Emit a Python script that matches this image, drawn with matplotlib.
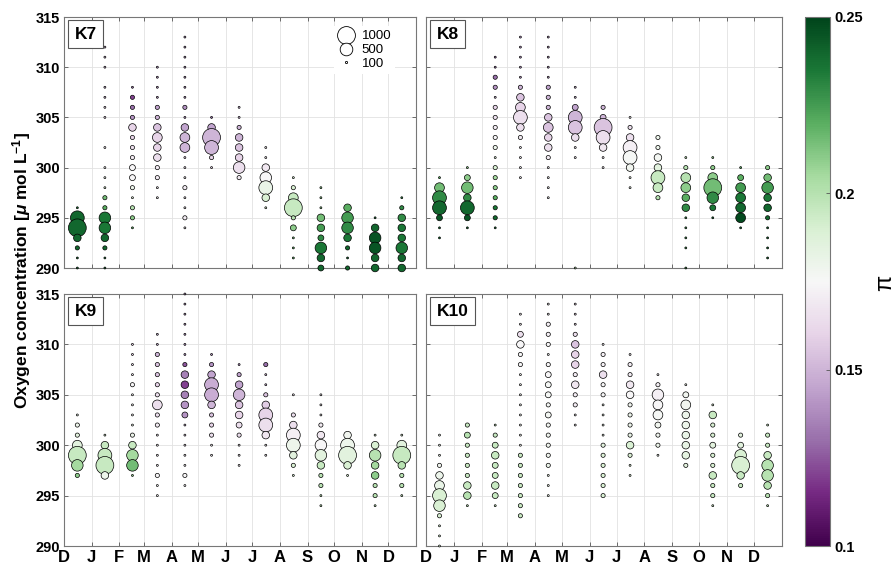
import matplotlib
matplotlib.use('Agg')
import matplotlib.pyplot as plt
import numpy as np
from matplotlib.colors import Normalize
from matplotlib.lines import Line2D

plt.rcParams['font.family'] = ['Liberation Sans', 'DejaVu Sans']
plt.rcParams['mathtext.fontset'] = 'custom'
plt.rcParams['mathtext.rm'] = 'Liberation Sans:bold'
plt.rcParams['mathtext.it'] = 'Liberation Sans:italic:bold'
plt.rcParams['mathtext.bf'] = 'Liberation Sans:bold'

# ---------------- data ----------------
month_labels = ['D', 'J', 'F', 'M', 'A', 'M', 'J', 'J', 'A', 'S', 'O', 'N', 'D']
month_days = [31, 31, 28, 31, 30, 31, 30, 31, 31, 30, 31, 30, 31]
panel_names = ['K7', 'K8', 'K9', 'K10']
legend_counts = [1000, 500, 100]
y_ticks = [290, 295, 300, 305, 310, 315]
cbar_ticks = [0.1, 0.15, 0.2, 0.25]

K7_oxy = [
    [296, 295, 294, 293, 292, 291, 290],
    [312, 311, 310, 308, 307, 306, 305, 302, 300, 299, 298, 297, 296, 295, 294, 293, 292, 291, 290],
    [308, 307, 306, 305, 304, 303, 302, 301, 300, 299, 298, 297, 296, 295, 294],
    [310, 309, 308, 307, 306, 305, 304, 303, 302, 301, 300, 299, 298, 297],
    [313, 312, 311, 310, 309, 308, 307, 306, 305, 304, 303, 302, 301, 300, 299, 298, 297, 296, 295, 294],
    [305, 304, 303, 302, 301, 300],
    [306, 305, 304, 303, 302, 301, 300, 299],
    [302, 301, 300, 299, 298, 297, 296],
    [299, 298, 297, 296, 295, 294, 293, 292, 291],
    [298, 297, 296, 295, 294, 293, 292, 291, 290],
    [296, 295, 294, 293, 292, 291, 290],
    [295, 294, 293, 292, 291, 290],
    [297, 296, 295, 294, 293, 292, 291, 290],
]
K7_count = [
    [12, 600, 1000, 180, 55, 12, 12],
    [12, 12, 12, 12, 12, 12, 12, 12, 12, 12, 12, 55, 55, 420, 420, 180, 55, 12, 12],
    [12, 55, 55, 55, 180, 55, 55, 55, 110, 110, 55, 12, 55, 55, 12],
    [12, 12, 12, 12, 55, 55, 180, 300, 180, 180, 55, 55, 12, 12],
    [12, 12, 12, 12, 12, 12, 12, 55, 12, 180, 300, 300, 12, 12, 12, 55, 12, 12, 55, 12],
    [12, 180, 1000, 600, 55, 12],
    [12, 12, 55, 180, 180, 180, 420, 55],
    [12, 12, 180, 420, 600, 180, 12],
    [12, 55, 300, 1000, 55, 110, 12, 12, 12],
    [12, 12, 12, 180, 180, 110, 420, 180, 110],
    [180, 420, 420, 180, 55, 12, 55],
    [12, 180, 420, 420, 180, 180],
    [12, 55, 180, 180, 180, 420, 180, 180],
]
K7_pi = [
    [0.235, 0.24, 0.24, 0.24, 0.24, 0.24, 0.24],
    [0.15, 0.15, 0.15, 0.15, 0.15, 0.16, 0.16, 0.17, 0.175, 0.18, 0.19, 0.215, 0.22, 0.235, 0.235, 0.24, 0.24, 0.24, 0.24],
    [0.13, 0.12, 0.13, 0.14, 0.16, 0.16, 0.165, 0.17, 0.175, 0.175, 0.18, 0.185, 0.2, 0.21, 0.22],
    [0.14, 0.14, 0.14, 0.14, 0.145, 0.15, 0.155, 0.16, 0.16, 0.165, 0.17, 0.17, 0.17, 0.17],
    [0.14, 0.14, 0.14, 0.14, 0.14, 0.14, 0.14, 0.14, 0.14, 0.145, 0.15, 0.15, 0.16, 0.165, 0.17, 0.17, 0.17, 0.17, 0.17, 0.17],
    [0.13, 0.145, 0.15, 0.15, 0.16, 0.16],
    [0.15, 0.15, 0.15, 0.15, 0.155, 0.16, 0.165, 0.17],
    [0.17, 0.17, 0.168, 0.175, 0.182, 0.19, 0.19],
    [0.19, 0.19, 0.195, 0.195, 0.2, 0.21, 0.215, 0.22, 0.22],
    [0.21, 0.21, 0.21, 0.215, 0.225, 0.23, 0.235, 0.24, 0.24],
    [0.22, 0.225, 0.23, 0.235, 0.24, 0.24, 0.24],
    [0.24, 0.24, 0.245, 0.245, 0.24, 0.24],
    [0.23, 0.23, 0.23, 0.235, 0.235, 0.235, 0.24, 0.24],
]

K8_oxy = [
    [299, 298, 297, 296, 295, 294, 293],
    [300, 299, 298, 297, 296, 295, 294],
    [311, 310, 309, 308, 307, 306, 305, 304, 303, 302, 301, 300, 299, 298, 297, 296, 295, 294],
    [313, 312, 311, 310, 309, 308, 307, 306, 305, 304, 303, 302, 301, 300, 299],
    [313, 312, 311, 310, 309, 308, 307, 306, 305, 304, 303, 302, 301, 300, 299, 298, 297],
    [308, 307, 306, 305, 304, 303, 302, 301, 290],
    [306, 305, 304, 303, 302, 301, 300],
    [305, 304, 303, 302, 301, 300, 299, 298],
    [303, 302, 301, 300, 299, 298, 297],
    [301, 300, 299, 298, 297, 296, 295, 294, 293, 292, 290],
    [301, 300, 299, 298, 297, 296, 295],
    [300, 299, 298, 297, 296, 295, 294],
    [300, 299, 298, 297, 296, 295, 294, 293, 292, 291],
]
K8_count = [
    [12, 300, 600, 600, 110, 12, 12],
    [12, 110, 420, 180, 600, 110, 12],
    [12, 12, 55, 55, 12, 55, 55, 55, 55, 55, 12, 55, 55, 55, 55, 55, 55, 12],
    [12, 12, 12, 12, 12, 55, 180, 300, 600, 180, 55, 12, 12, 12, 12],
    [12, 12, 12, 12, 12, 55, 55, 55, 180, 300, 180, 180, 55, 12, 12, 12, 12],
    [12, 12, 110, 600, 600, 180, 12, 12, 12],
    [55, 110, 1000, 600, 180, 12, 12],
    [12, 55, 180, 600, 600, 180, 12, 12],
    [55, 55, 180, 180, 600, 300, 55],
    [12, 55, 300, 300, 180, 180, 12, 12, 12, 12, 12],
    [12, 55, 300, 1000, 420, 110, 12],
    [12, 110, 300, 300, 300, 300, 12],
    [55, 180, 420, 180, 180, 55, 12, 12, 12, 12],
]
K8_pi = [
    [0.22, 0.215, 0.23, 0.24, 0.245, 0.24, 0.24],
    [0.21, 0.21, 0.215, 0.23, 0.24, 0.245, 0.24],
    [0.13, 0.13, 0.13, 0.14, 0.15, 0.16, 0.165, 0.17, 0.175, 0.18, 0.185, 0.19, 0.205, 0.21, 0.22, 0.235, 0.24, 0.24],
    [0.14, 0.14, 0.14, 0.14, 0.14, 0.15, 0.155, 0.16, 0.165, 0.165, 0.17, 0.17, 0.17, 0.17, 0.17],
    [0.14, 0.14, 0.14, 0.14, 0.14, 0.145, 0.15, 0.15, 0.155, 0.155, 0.16, 0.165, 0.17, 0.17, 0.17, 0.17, 0.17],
    [0.15, 0.15, 0.145, 0.15, 0.155, 0.165, 0.17, 0.17, 0.2],
    [0.15, 0.15, 0.155, 0.165, 0.168, 0.17, 0.17],
    [0.17, 0.165, 0.165, 0.172, 0.176, 0.178, 0.18, 0.18],
    [0.18, 0.18, 0.177, 0.185, 0.195, 0.195, 0.2],
    [0.2, 0.2, 0.2, 0.21, 0.22, 0.23, 0.23, 0.23, 0.23, 0.23, 0.23],
    [0.21, 0.21, 0.21, 0.215, 0.23, 0.235, 0.24],
    [0.22, 0.22, 0.225, 0.235, 0.24, 0.248, 0.24],
    [0.21, 0.215, 0.225, 0.235, 0.24, 0.24, 0.24, 0.24, 0.24, 0.24],
]

K9_oxy = [
    [303, 302, 301, 300, 299, 298, 297],
    [301, 300, 299, 298, 297],
    [310, 309, 308, 307, 306, 305, 304, 303, 302, 301, 300, 299, 298, 297],
    [311, 310, 309, 308, 307, 306, 305, 304, 303, 302, 301, 300, 299, 298, 297, 296, 295],
    [315, 314, 313, 312, 311, 310, 309, 308, 307, 306, 305, 304, 303, 302, 301, 300, 299, 298, 297, 296],
    [309, 308, 307, 306, 305, 304, 303, 302, 301, 300, 299],
    [308, 307, 306, 305, 304, 303, 302, 301, 300, 299, 298],
    [308, 307, 306, 305, 304, 303, 302, 301, 300, 299],
    [305, 303, 302, 301, 300, 299, 298, 297],
    [305, 304, 303, 302, 301, 300, 299, 298, 297, 296, 295, 294],
    [301, 300, 299, 298, 297],
    [301, 300, 299, 298, 297, 296, 295, 294],
    [301, 300, 299, 298, 297, 296, 295],
]
K9_count = [
    [12, 55, 55, 300, 1000, 420, 55],
    [12, 180, 600, 1000, 180],
    [12, 12, 12, 12, 55, 12, 12, 12, 12, 55, 180, 420, 420, 12],
    [12, 12, 55, 55, 55, 55, 55, 300, 55, 55, 12, 12, 12, 12, 55, 12, 12],
    [12, 12, 12, 12, 12, 12, 12, 55, 180, 180, 180, 180, 110, 12, 12, 12, 12, 12, 55, 12],
    [12, 55, 180, 600, 600, 180, 55, 55, 55, 12, 12],
    [12, 55, 180, 420, 180, 180, 110, 55, 12, 12, 12],
    [55, 12, 12, 55, 180, 600, 600, 180, 12, 12],
    [12, 55, 180, 600, 600, 180, 55, 12],
    [12, 12, 12, 55, 180, 420, 420, 180, 55, 55, 12, 12],
    [180, 600, 1000, 180, 12],
    [12, 180, 420, 180, 180, 55, 55, 12],
    [12, 300, 1000, 180, 55, 55, 12],
]
K9_pi = [
    [0.18, 0.18, 0.185, 0.185, 0.195, 0.205, 0.21],
    [0.19, 0.195, 0.195, 0.195, 0.18],
    [0.16, 0.16, 0.165, 0.17, 0.175, 0.175, 0.175, 0.175, 0.18, 0.18, 0.195, 0.205, 0.215, 0.21],
    [0.15, 0.15, 0.15, 0.155, 0.155, 0.16, 0.165, 0.165, 0.165, 0.17, 0.17, 0.17, 0.17, 0.17, 0.175, 0.175, 0.175],
    [0.14, 0.14, 0.14, 0.14, 0.14, 0.14, 0.14, 0.125, 0.135, 0.12, 0.135, 0.14, 0.14, 0.15, 0.16, 0.165, 0.17, 0.17, 0.175, 0.175],
    [0.14, 0.14, 0.145, 0.148, 0.148, 0.15, 0.155, 0.16, 0.165, 0.17, 0.17],
    [0.14, 0.145, 0.145, 0.15, 0.155, 0.16, 0.165, 0.165, 0.17, 0.17, 0.17],
    [0.13, 0.15, 0.15, 0.155, 0.158, 0.16, 0.165, 0.168, 0.17, 0.17],
    [0.17, 0.165, 0.165, 0.172, 0.18, 0.185, 0.19, 0.19],
    [0.17, 0.17, 0.17, 0.17, 0.168, 0.175, 0.185, 0.195, 0.2, 0.2, 0.2, 0.2],
    [0.178, 0.18, 0.185, 0.19, 0.19],
    [0.19, 0.19, 0.2, 0.205, 0.21, 0.2, 0.2, 0.2],
    [0.19, 0.185, 0.195, 0.2, 0.2, 0.2, 0.2],
]

K10_oxy = [
    [301, 300, 299, 298, 297, 296, 295, 294, 293, 292, 291, 290],
    [302, 301, 300, 299, 298, 297, 296, 295, 294],
    [302, 301, 300, 299, 298, 297, 296, 295, 294],
    [313, 312, 311, 310, 309, 308, 307, 306, 305, 304, 303, 302, 301, 300, 299, 298, 297, 296, 295, 294, 293],
    [314, 313, 312, 311, 310, 309, 308, 307, 306, 305, 304, 303, 302, 301, 300, 299, 298, 297, 296, 295],
    [314, 313, 312, 311, 310, 309, 308, 307, 306, 305, 304, 303, 302],
    [310, 309, 308, 307, 306, 305, 304, 303, 302, 301, 300, 299, 298, 297, 296, 295],
    [309, 308, 307, 306, 305, 304, 303, 302, 301, 300, 299, 298, 297],
    [307, 306, 305, 304, 303, 302, 301, 300, 299],
    [306, 305, 304, 303, 302, 301, 300, 299, 298],
    [304, 303, 302, 301, 300, 299, 298, 297, 296, 295, 294],
    [301, 300, 299, 298, 297, 296],
    [302, 301, 300, 299, 298, 297, 296, 295, 294],
]
K10_count = [
    [12, 12, 12, 55, 180, 300, 600, 420, 55, 12, 12, 12],
    [55, 110, 55, 55, 55, 55, 180, 180, 12],
    [12, 55, 110, 180, 110, 110, 180, 110, 12],
    [12, 12, 110, 180, 55, 55, 12, 12, 12, 12, 12, 12, 12, 12, 55, 55, 55, 55, 55, 55, 55],
    [12, 12, 55, 55, 55, 12, 55, 110, 110, 110, 55, 110, 55, 55, 55, 55, 55, 12, 12, 12],
    [12, 12, 12, 55, 180, 180, 180, 55, 180, 55, 55, 12, 12],
    [12, 55, 55, 180, 55, 55, 12, 12, 12, 12, 55, 55, 55, 55, 55, 55],
    [12, 55, 55, 180, 180, 55, 55, 55, 55, 180, 55, 12, 12],
    [12, 55, 420, 300, 300, 110, 55, 55, 12],
    [12, 110, 300, 180, 180, 180, 180, 180, 55],
    [12, 180, 55, 55, 110, 55, 55, 180, 55, 55, 12],
    [55, 110, 420, 1000, 180, 55],
    [12, 55, 55, 180, 420, 420, 180, 55, 12],
]
K10_pi = [
    [0.18, 0.18, 0.18, 0.178, 0.18, 0.182, 0.19, 0.19, 0.19, 0.19, 0.19, 0.19],
    [0.195, 0.2, 0.195, 0.195, 0.195, 0.195, 0.195, 0.2, 0.2],
    [0.195, 0.195, 0.195, 0.195, 0.195, 0.195, 0.195, 0.195, 0.195],
    [0.17, 0.17, 0.165, 0.175, 0.175, 0.175, 0.175, 0.175, 0.175, 0.175, 0.175, 0.175, 0.175, 0.175, 0.195, 0.195, 0.195, 0.195, 0.195, 0.195, 0.195],
    [0.17, 0.17, 0.172, 0.172, 0.174, 0.175, 0.175, 0.175, 0.176, 0.176, 0.176, 0.177, 0.177, 0.178, 0.178, 0.178, 0.18, 0.18, 0.18, 0.18],
    [0.16, 0.16, 0.16, 0.165, 0.155, 0.16, 0.16, 0.17, 0.168, 0.17, 0.17, 0.17, 0.17],
    [0.17, 0.172, 0.172, 0.165, 0.175, 0.175, 0.18, 0.18, 0.18, 0.18, 0.185, 0.188, 0.19, 0.19, 0.19, 0.19],
    [0.17, 0.17, 0.17, 0.168, 0.175, 0.178, 0.18, 0.18, 0.182, 0.19, 0.19, 0.19, 0.19],
    [0.17, 0.172, 0.172, 0.175, 0.176, 0.178, 0.178, 0.18, 0.18],
    [0.178, 0.178, 0.178, 0.18, 0.18, 0.182, 0.183, 0.184, 0.185],
    [0.19, 0.195, 0.19, 0.19, 0.185, 0.19, 0.19, 0.195, 0.195, 0.195, 0.195],
    [0.185, 0.185, 0.19, 0.19, 0.195, 0.195],
    [0.195, 0.195, 0.195, 0.195, 0.2, 0.2, 0.2, 0.2, 0.2],
]

panels = [(K7_oxy, K7_count, K7_pi), (K8_oxy, K8_count, K8_pi),
          (K9_oxy, K9_count, K9_pi), (K10_oxy, K10_count, K10_pi)]

# ---------------- layout ----------------
W, H = 895, 565
fig = plt.figure(figsize=(W / 100, H / 100), dpi=100)

def fig_rect(x0, y0, x1, y1):
    return [x0 / W, 1 - y1 / H, (x1 - x0) / W, (y1 - y0) / H]

rects = [fig_rect(64, 17, 416, 268), fig_rect(426, 17, 782, 268),
         fig_rect(64, 294, 416, 546), fig_rect(426, 294, 782, 546)]

cmap = plt.get_cmap('PRGn')
norm = Normalize(vmin=0.1, vmax=0.25)
SIZE_K = 0.165  # points^2 per unit count

month_starts = np.concatenate([[0], np.cumsum(month_days)])
x_mid = month_starts[:-1] + 15

for i, (name, (oxy, cnt, piv)) in enumerate(zip(panel_names, panels)):
    ax = fig.add_axes(rects[i])
    ax.set_axisbelow(True)
    for j in range(len(oxy)):
        yy = np.array(oxy[j], float)
        ss = np.array(cnt[j], float) * SIZE_K
        cc = np.array(piv[j], float)
        ax.scatter(np.full(len(yy), x_mid[j]), yy, s=ss, c=cc, cmap=cmap, norm=norm,
                   edgecolors='black', linewidths=0.5, zorder=3, clip_on=False)
    ax.set_xlim(month_starts[0], month_starts[-1])
    ax.set_ylim(290, 315)
    ax.set_xticks(month_starts[:-1])
    ax.set_yticks(y_ticks)
    ax.grid(True, color='#e2e2e2', linewidth=0.6)
    ax.tick_params(direction='in', length=3, width=0.6, top=True, right=True,
                   color='#555555', labelsize=10.5, pad=3)
    for sp in ax.spines.values():
        sp.set_color('#777777')
        sp.set_linewidth(0.8)
    if i in (0, 2):
        ax.set_yticklabels([str(v) for v in y_ticks], fontweight='bold')
    else:
        ax.set_yticklabels([])
    if i in (2, 3):
        ax.set_xticklabels(month_labels, fontweight='bold', fontsize=12)
    else:
        ax.set_xticklabels([])
    ax.text(0.03, 0.962, name, transform=ax.transAxes, ha='left', va='top',
            fontsize=12.5, fontweight='bold', zorder=5,
            bbox=dict(boxstyle='square,pad=0.36', fc='white', ec='#555555', lw=0.8))
    if i == 0:
        handles = []
        for c in legend_counts:
            ms = np.sqrt(c * SIZE_K) if c >= 500 else 1.6
            handles.append(Line2D([], [], linestyle='none', marker='o', markersize=ms,
                                  markerfacecolor='white', markeredgecolor='black',
                                  markeredgewidth=0.6))
        leg = ax.legend(handles, [str(c) for c in legend_counts], loc='upper right',
                        bbox_to_anchor=(0.96, 0.99), frameon=True, fancybox=False,
                        edgecolor='none', facecolor='white', framealpha=1,
                        fontsize=9.5, handlelength=1.2, handletextpad=0.6,
                        labelspacing=0.12, borderpad=0.3)
        leg.set_zorder(6)

# colorbar
cax = fig.add_axes(fig_rect(805, 17, 830, 546))
sm = plt.cm.ScalarMappable(cmap=cmap, norm=norm)
cb = fig.colorbar(sm, cax=cax, ticks=cbar_ticks)
cb.ax.set_yticklabels(['0.1', '0.15', '0.2', '0.25'], fontweight='bold')
cb.ax.tick_params(direction='in', length=3, width=0.6, labelsize=10.5, color='#555555')
cb.outline.set_edgecolor('#777777')
cb.outline.set_linewidth(0.8)
fig.text(885 / W, 1 - 283 / H, 'π', rotation=90, fontsize=17,
         ha='center', va='center')

fig.text(22 / W, 1 - 270 / H, r'Oxygen concentration [$\mu$ mol L$^{-1}$]',
         rotation=90, fontsize=12.5, fontweight='bold', ha='center', va='center')

fig.savefig('out.png', dpi=100)
